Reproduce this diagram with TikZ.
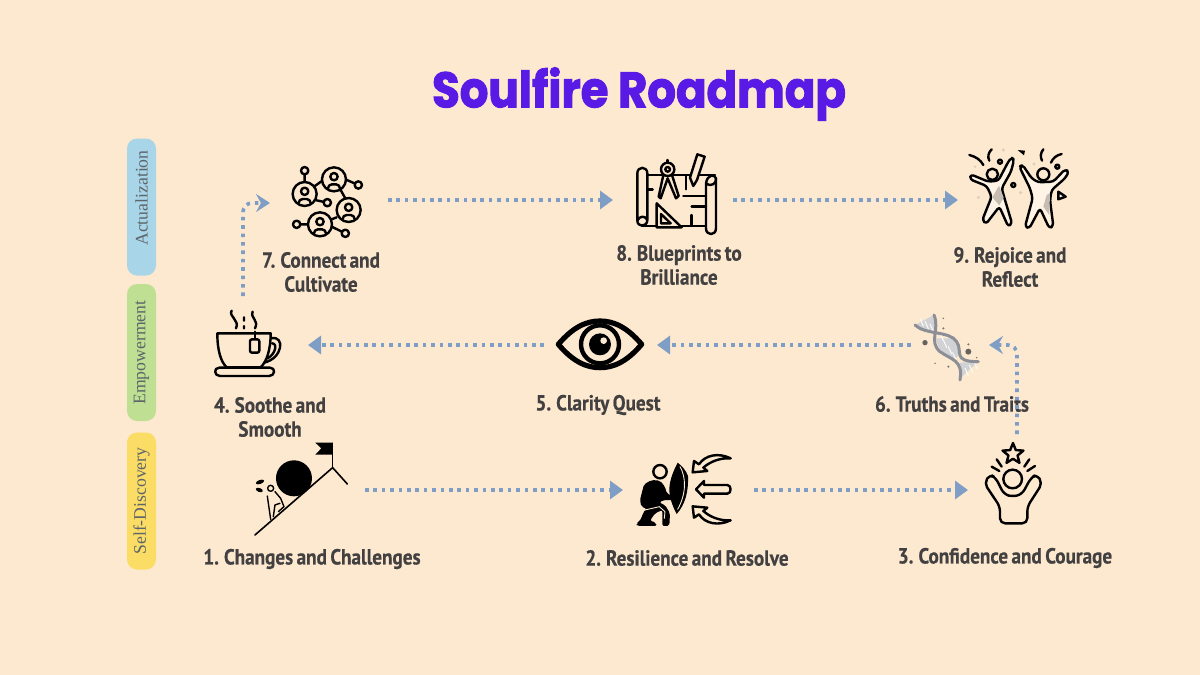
\documentclass[tikz,border=0pt]{standalone}
\usepackage{fontspec}
\usepackage{tikz}
\usetikzlibrary{arrows.meta, shapes.geometric}

\newfontfamily\titlefont{Poppins}[FakeBold=2, FakeStretch=0.90]
\newfontfamily\labelfont{PT Sans}[FakeStretch=0.88, FakeBold=0.4, WordSpace=0.7]
\newfontfamily\pillfont{Liberation Serif}

\definecolor{paper}{HTML}{FDE9CF}
\definecolor{titleviolet}{HTML}{5A1AE6}
\definecolor{labelgrey}{HTML}{424040}
\definecolor{linkblue}{HTML}{7F9EC6}
\definecolor{pillblue}{HTML}{A9D5E8}
\definecolor{pillgreen}{HTML}{BFDF93}
\definecolor{pillyellow}{HTML}{FBDC65}
\definecolor{helixgrey}{HTML}{8C8F96}

\tikzset{
	pill/.style={rounded corners=10pt, minimum width=137pt, minimum height=29pt, rotate=90,
		font=\pillfont\fontsize{17.7}{18}\selectfont, text=labelgrey!75!pillblue, inner sep=0pt},
	steplabel/.style={font=\labelfont\bfseries\fontsize{21.8}{24}\selectfont, text=labelgrey, align=center, inner sep=0pt},
	iconbox/.style={inner sep=0pt, outer sep=0pt},
	link/.style={draw=linkblue, line width=3.6pt, dash pattern=on 3.6pt off 4.8pt,
		-{Triangle[length=13pt,width=18pt,fill=linkblue]}},
	bentlink/.style={link, rounded corners=9pt, -{Stealth[inset=5pt,length=14pt,width=18pt,fill=linkblue]}},
	zoomed/.style={x=0.3333pt, y=-0.3333pt, line width=2.4pt, line join=round, line cap=round},
}

\begin{document}
\begin{tikzpicture}[x=1pt, y=-1pt]
	\fill[paper] (0,0) rectangle (1200,675);
	\useasboundingbox (0,0) rectangle (1200,675);

	% Title
	\node[font=\titlefont\bfseries\fontsize{50}{50}\selectfont, text=titleviolet, inner sep=0pt] (title) at (639,94) {Soulfire Roadmap};

	% Stage pills
	\node[pill, fill=pillblue] (actual) at (141.5,207) {\hspace*{18pt}Actualization};
	\node[pill, fill=pillgreen] (empower) at (141.5,352.5) {Empowerment};
	\node[pill, fill=pillyellow] (discovery) at (141.5,501) {Self-Discovery};

	% Icon places
	\node[iconbox, minimum width=130pt, minimum height=90pt] (icon1) at (300,490) {};
	\node[iconbox, minimum width=131pt, minimum height=90pt] (icon2) at (688.5,490) {};
	\node[iconbox, minimum width=98pt, minimum height=112pt] (icon3) at (1017,490) {};
	\node[iconbox, minimum width=130pt, minimum height=98pt] (icon4) at (243,345) {};
	\node[iconbox, minimum width=113pt, minimum height=70pt] (icon5) at (600.5,345) {};
	\node[iconbox, minimum width=78pt, minimum height=70pt] (icon6) at (950,345) {};
	\node[iconbox, minimum width=118pt, minimum height=70pt] (icon7) at (329,200) {};
	\node[iconbox, minimum width=120pt, minimum height=70pt] (icon8) at (673,200) {};
	\node[iconbox, minimum width=120pt, minimum height=70pt] (icon9) at (1018,200) {};

	% Labels
	\node[steplabel] (step1) at (312,559) {1. Changes and Challenges};
	\node[steplabel] (step2) at (687,558) {2. Resilience and Resolve};
	\node[steplabel] (step3) at (1005,558) {3. Confidence and Courage};
	\node[steplabel] (step4) at (270,417) {4. Soothe and\\Smooth};
	\node[steplabel] (step5) at (598,405) {5. Clarity Quest};
	\node[steplabel] (step6) at (952,404) {6. Truths and Traits};
	\node[steplabel] (step7) at (321,272) {7. Connect and\\Cultivate};
	\node[steplabel] (step8) at (679,265) {8. Blueprints to\\Brilliance};
	\node[steplabel] (step9) at (1010,267) {9. Rejoice and\\Reflect};

	% Route
	\draw[link] (icon1.east) -- (icon2.west);
	\draw[link] (icon2.east) -- (icon3.west);
	\draw[bentlink] (icon3.north) |- (icon6.east);
	\draw[link] (icon6.west) -- (icon5.east);
	\draw[link] (icon5.west) -- (icon4.east);
	\draw[bentlink] (icon4.north) |- ([yshift=-3pt]icon7.west);
	\draw[link] (icon7.east) -- (icon8.west);
	\draw[link] (icon8.east) -- (icon9.west);

	% 7: network of people
	\begin{scope}[shift={(110,130)}, zoomed]
		\draw (584,158) -- (584,122) (706,148) -- (745,165) (615,210) -- (652,218)
			(594,283) -- (560,283) (665,290) -- (706,310)
			(612,170) -- (640,150) (692,180) -- (706,205) (680,262) -- (655,272);
		\foreach \x/\y in {584/122, 745/165, 652/218, 560/283, 706/310} {
			\draw[fill=paper] (\x,\y) circle (11);
		}
		\foreach \x/\y in {672/148, 584/192, 716/240, 630/283} {
			\draw[fill=paper] (\x,\y) circle (36);
			\draw (\x,\y-8) circle (11);
			\draw[rounded corners=4pt] (\x-18,\y+26) -- (\x-18,\y+15) -- (\x+18,\y+15) -- (\x+18,\y+26);
		}
	\end{scope}

	% 4: tea cup
	\begin{scope}[shift={(110,290)}, zoomed]
		\draw (322,130) -- (482,130) .. controls (482,180) and (470,215) .. (452,232) -- (350,232) .. controls (332,215) and (322,180) .. (322,130);
		\draw (484,145) .. controls (525,135) and (520,205) .. (462,218) (486,160) .. controls (505,160) and (495,195) .. (472,205);
		\draw (328,233) -- (480,233) .. controls (498,233) and (495,258) .. (478,258) -- (330,258) .. controls (312,258) and (310,233) .. cycle;
		\draw (435,125) -- (435,148);
		\draw[rounded corners=2pt, fill=paper] (420,148) rectangle (448,188);
		\draw (365,62) .. controls (355,80) and (390,90) .. (378,115) (428,65) .. controls (420,85) and (448,90) .. (435,115) (402,82) -- (402,92) (402,108) -- (402,115);
	\end{scope}

	% 1: boulder on the slope
	\begin{scope}[shift={(110,290)}, zoomed]
		\draw[line width=1.6pt] (435,735) -- (668,533) -- (712,582);
		\draw[line width=1.6pt] (668,533) -- (668,460);
		\fill (668,458) -- (616,458) -- (634,475) -- (616,494) -- (668,494) -- cycle;
		\fill (552,565) circle (54);
		\draw[line width=1.4pt] (482,595) circle (9);
		\draw[line width=1.4pt] (472,618) -- (482,688) (495,605) -- (512,625) -- (522,650) -- (505,665) (490,680) -- (495,645) -- (510,640);
		\fill[rotate around={20:(450,576)}] (450,576) ellipse (13 and 6);
		\fill[rotate around={-20:(448,600)}] (448,600) ellipse (11 and 6);
	\end{scope}

	% 8: blueprint and tools
	\begin{scope}[shift={(600,150)}, zoomed]
		\draw (142,75) -- (345,75);
		\draw (125,228) -- (318,228);
		\draw (142,210) -- (142,70) .. controls (142,48) and (112,48) .. (112,70) -- (112,212) .. controls (112,232) and (142,232) .. (142,210) .. controls (135,195) and (118,198) .. (112,212);
		\draw[fill=paper] (318,235) -- (318,100) .. controls (335,112) and (350,100) .. (348,85) .. controls (345,72) and (322,72) .. (318,100);
		\draw (348,85) -- (348,235) .. controls (348,258) and (318,258) .. (318,235);
		\draw (145,118) -- (158,118) (258,78) -- (258,118) (250,138) -- (318,138) (275,170) -- (318,170) (275,195) -- (275,228);
		\draw[fill=paper] (190,75) -- (176,140) -- (182,145) -- (203,85) -- (228,145) -- (236,138) -- (216,75) -- cycle;
		\draw[fill=paper] (203,58) circle (20);
		\draw (203,58) circle (7);
		\draw (203,38) -- (203,30);
		\draw[fill=paper] (292,13) -- (314,20) -- (291,90) -- (280,108) -- (270,83) -- cycle;
		\draw[fill=paper] (170,160) -- (245,232) -- (170,232) -- cycle;
		\draw (183,192) -- (212,220) -- (183,220) -- cycle;
	\end{scope}

	% 9: two people dancing
	\begin{scope}[shift={(950,140)}, zoomed]
		\draw[fill=white!45!paper, rounded corners=3pt] (185,52) -- (192,60) -- (183,95) -- (155,145) -- (165,180) -- (186,250) -- (175,260) -- (148,200) -- (108,252) -- (97,240) -- (125,170) -- (110,138) -- (60,118) -- (62,103) -- (115,125) -- (145,122) -- (175,65) -- cycle;
		\draw[fill=white!45!paper, rounded corners=3pt] (208,80) -- (218,75) -- (245,115) -- (265,127) -- (310,125) -- (345,88) -- (357,95) -- (345,115) -- (305,150) -- (300,180) -- (310,258) -- (298,265) -- (270,205) -- (238,265) -- (225,260) -- (248,175) -- (240,145) -- cycle;
		\fill[helixgrey!50!paper] (127,172) -- (148,196) -- (161,172) -- (147,137) -- cycle;
		\fill[helixgrey!50!paper] (290,165) -- (280,200) -- (298,225) -- (300,160) -- cycle;
		\draw[fill=paper] (127,103) circle (17);
		\draw[fill=paper] (280,103) circle (18);
		\draw (58,45) .. controls (78,50) and (92,60) .. (100,75) (125,28) .. controls (115,38) and (112,50) .. (118,62)
			(280,28) .. controls (272,38) and (270,50) .. (276,62) (335,42) .. controls (320,45) and (308,55) .. (303,68);
		\draw (150,65) circle (6) (190,135) circle (6) (322,80) circle (6);
		\fill (203,30) -- (225,32) -- (222,46) -- cycle;
		\draw[fill=white!45!paper] (325,155) -- (347,170) -- (325,178) -- cycle;
		\fill[helixgrey!30!paper] (160,30) circle (5) (75,80) circle (4) (85,172) circle (5) (212,158) circle (5) (252,72) circle (5);
	\end{scope}

	% 5: eye
	\begin{scope}[shift={(540,310)}, zoomed]
		\draw[line width=5.2pt] (55,103) .. controls (100,50) and (140,33) .. (180,33) .. controls (220,33) and (260,50) .. (305,103) .. controls (260,156) and (220,173) .. (180,173) .. controls (140,173) and (100,156) .. (55,103) -- cycle;
		\draw[line width=4.4pt] (180,103) circle (57);
		\fill (180,103) circle (33);
		\fill[paper] (191,92) circle (10);
	\end{scope}

	% 3: raised arms and star
	\begin{scope}[shift={(900,310)}, zoomed]
		\node[draw=black, star, star points=5, star point ratio=2.3, minimum size=22pt, inner sep=0pt, line width=2.4pt] (star) at (339,432) {};
		\draw (290,448) -- (305,470) (275,470) -- (298,483) (388,448) -- (373,470) (405,468) -- (382,483);
		\draw (338,507) circle (28);
		\draw[rounded corners=5pt] (300,640) -- (382,640) -- (382,590) -- (427,520) -- (410,492) -- (392,505) -- (366,553) -- (338,560) -- (312,553) -- (288,505) -- (270,492) -- (253,520) -- (300,590) -- cycle;
	\end{scope}

	% 6: helix
	\begin{scope}[shift={(910,310)}, zoomed]
		\fill[helixgrey!40!white] (15,45) .. controls (40,60) and (65,65) .. (78,55) -- (72,15) -- cycle;
		\fill[helixgrey!40!white] (78,85) -- (130,85) .. controls (150,110) and (150,130) .. (135,150) .. controls (110,145) and (85,125) .. (78,85);
		\fill[helixgrey!40!white] (150,158) -- (205,155) -- (150,205) -- cycle;
		\foreach \a/\b in {30/26, 45/34, 60/42, 90/70, 100/90, 115/110, 128/128, 165/175, 178/165, 192/155} {
			\draw[white!80!paper, line width=1pt] (\a,\b) -- (\a+10,\b+22);
		}
		\draw[helixgrey, line width=3pt] (15,45) .. controls (45,75) and (120,62) .. (140,95) .. controls (160,125) and (125,155) .. (205,155);
		\draw[helixgrey, line width=3pt] (72,15) .. controls (90,60) and (55,95) .. (90,125) .. controls (125,150) and (160,150) .. (150,210);
		\fill[labelgrey!80!paper] (45,98) circle (8) (175,125) circle (9);
		\fill[labelgrey!70!paper] (100,25) circle (2.5) (100,55) circle (3.5) (175,103) circle (3.5) (200,143) circle (2.5) (75,160) circle (2.5) (115,170) circle (3.5);
	\end{scope}

	% 2: figure behind a shield
	\begin{scope}[shift={(630,450)}, zoomed]
		\fill[rounded corners=2pt] (65,90) -- (42,103) -- (30,150) -- (34,170) -- (50,176) -- (38,190) -- (35,205) -- (18,222) -- (22,228) -- (80,228) -- (78,218) -- (60,212) -- (75,190) -- (97,180) -- (97,228) -- (118,228) -- (120,190) -- (105,165) -- (88,158) -- (100,150) -- (135,150) -- (135,142) -- (110,130) -- (105,110) -- (90,92) -- cycle;
		\draw[paper, line width=0.9pt] (45,180) -- (88,170) -- (105,185) -- (103,205);
		\draw[fill=paper] (90,65) circle (20);
		\fill (143,38) .. controls (155,48) and (168,60) .. (174,78) .. controls (176,125) and (165,165) .. (140,192) .. controls (128,170) and (117,140) .. (118,115) .. controls (120,85) and (132,60) .. (143,38);
		\draw[paper, line width=0.9pt] (150,50) .. controls (168,80) and (170,130) .. (143,178);
	\end{scope}
	\begin{scope}[shift={(620,445)}, zoomed]
		\draw[fill=paper] (332,40) .. controls (295,22) and (255,30) .. (237,58) -- (222,48) -- (218,82) -- (262,78) -- (250,68) .. controls (270,50) and (300,38) .. cycle;
		\draw[fill=paper] (332,226) .. controls (295,244) and (255,236) .. (237,208) -- (222,218) -- (218,184) -- (262,188) -- (250,198) .. controls (270,216) and (300,228) .. cycle;
		\draw[fill=paper] (252,120) -- (322,120) .. controls (335,120) and (335,146) .. (322,146) -- (252,146) -- (252,158) -- (228,133) -- (252,108) -- cycle;
	\end{scope}
\end{tikzpicture}
\end{document}
